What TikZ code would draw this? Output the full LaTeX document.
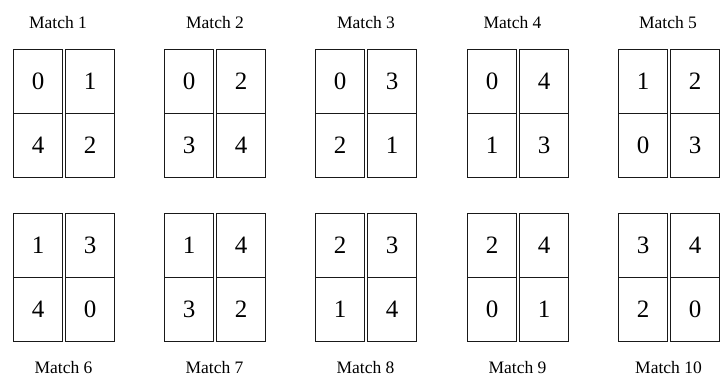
\documentclass[tikz,border=0pt]{standalone}
\usepackage{fontspec}
\setmainfont{Liberation Serif}

\tikzset{
  cell/.style={draw=black!90, line width=1.1pt, minimum width=49pt,
    minimum height=64pt, inner sep=0pt, anchor=north west,
    font=\fontsize{25}{25}\selectfont},
  title/.style={font=\fontsize{17.5}{20}\selectfont},
}

\begin{document}
\begin{tikzpicture}[x=1pt,y=-1pt]
  \useasboundingbox (0,0) rectangle (724,378);

  % match / left edge / top edge / the four numbers / label position
  \foreach \n/\x/\y/\a/\b/\c/\d/\lx/\ly in {
      1/13/49/0/1/4/2/58/22.5,
      2/164/49/0/2/3/4/215/22.5,
      3/315/49/0/3/2/1/366/22.5,
      4/467/49/0/4/1/3/512.5/22.5,
      5/618/49/1/2/0/3/668/22.5,
      6/13/213/1/3/4/0/63.5/368,
      7/164/213/1/4/3/2/214.5/368,
      8/315/213/2/3/1/4/365.5/368,
      9/467/213/2/4/0/1/517.5/368,
      10/618/213/3/4/2/0/668.5/368} {
    \node[cell] (m\n a) at (\x,\y) {\a};
    \node[cell] (m\n b) at (\x+52,\y) {\b};
    \node[cell] (m\n c) at (\x,\y+64) {\c};
    \node[cell] (m\n d) at (\x+52,\y+64) {\d};
    \node[title] (t\n) at (\lx,\ly) {Match \n};
  }

\end{tikzpicture}
\end{document}
